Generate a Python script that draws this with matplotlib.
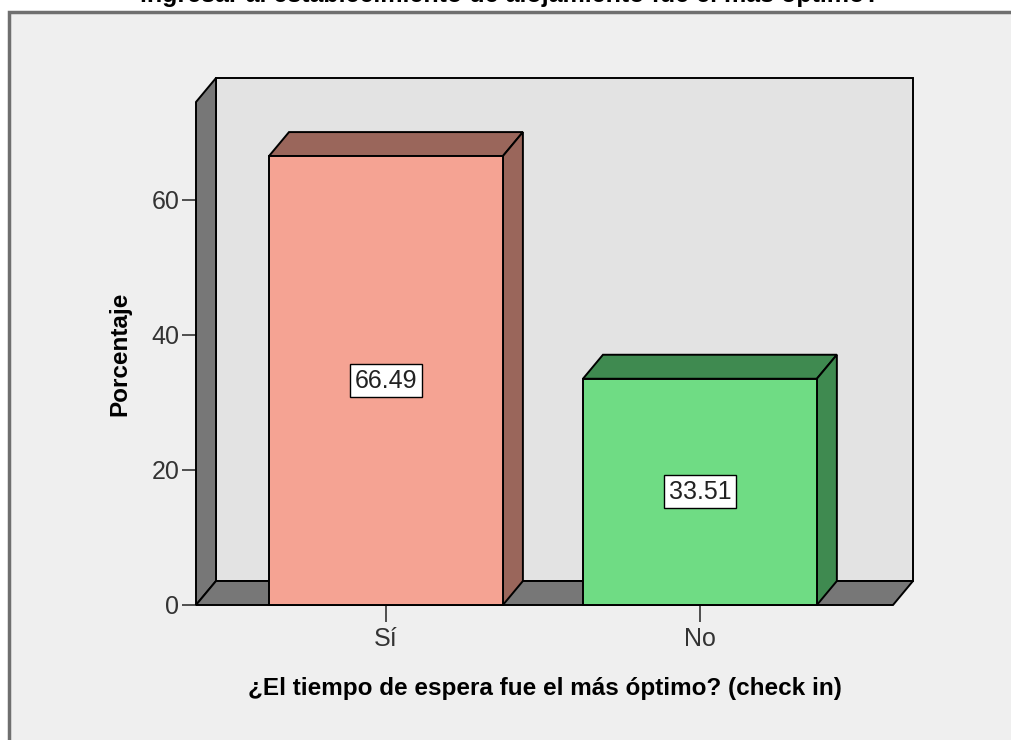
import matplotlib
matplotlib.use("Agg")
import matplotlib.pyplot as plt
from matplotlib.patches import Polygon, Rectangle

plt.rcParams["font.family"] = ["Liberation Sans", "DejaVu Sans"]

# Data
categories = ["Sí", "No"]
percentages = [66.49, 33.51]
value_labels = ["66.49", "33.51"]
yticks = [0, 20, 40, 60]
title_line = "ingresar al establecimiento de alojamiento fue el más óptimo?"
x_title = "¿El tiempo de espera fue el más óptimo? (check in)"
y_title = "Porcentaje"

front_colors = ["#f5a393", "#6fdc84"]
shade_colors = ["#9a665b", "#3f8a50"]
wall_color = "#777777"
back_color = "#e3e3e3"

W, H = 1012, 740
fig = plt.figure(figsize=(W / 100, H / 100), dpi=100, facecolor="white")

# outer chart frame
fig.patches.append(Rectangle((9 / W, -0.1), 1.2, 1.1 - 12 / H,
                             transform=fig.transFigure, facecolor="#efefef",
                             edgecolor="#6f6f6f", linewidth=2.5, zorder=-5))

# partially visible title line
fig.text(510 / W, 1 - 2 / H, title_line, ha="center", va="baseline",
         fontsize=18, fontweight="bold", color="black", zorder=-4)

ax_l, ax_r, ax_t, ax_b = 196, 893, 102, 605
ax = fig.add_axes([ax_l / W, (H - ax_b) / H, (ax_r - ax_l) / W, (ax_b - ax_t) / H])
ax.set_zorder(1)
x0, x1 = -0.605, 1.615
y0, y1 = 0, 74.5
ax.set_xlim(x0, x1)
ax.set_ylim(y0, y1)
ax.patch.set_visible(False)
for s in ax.spines.values():
    s.set_visible(False)

# depth offset of the 3D box, converted to data units
dx = 20 * (x1 - x0) / (ax_r - ax_l)
dy = 24 * (y1 - y0) / (ax_b - ax_t)

ek = dict(edgecolor="black", linewidth=1.4, clip_on=False, joinstyle="miter")

# back wall, left wall, floor
ax.add_patch(Polygon([(x0 + dx, y0 + dy), (x1 + dx, y0 + dy), (x1 + dx, y1 + dy), (x0 + dx, y1 + dy)],
                     facecolor=back_color, zorder=1, **ek))
ax.add_patch(Polygon([(x0, y0), (x0 + dx, y0 + dy), (x0 + dx, y1 + dy), (x0, y1)],
                     facecolor=wall_color, zorder=2, **ek))
ax.add_patch(Polygon([(x0, y0), (x1, y0), (x1 + dx, y0 + dy), (x0 + dx, y0 + dy)],
                     facecolor=wall_color, zorder=2, **ek))

# bars
bw = 0.745
for i, (v, fc, sc) in enumerate(zip(percentages, front_colors, shade_colors)):
    xl, xr = i - bw / 2, i + bw / 2
    ax.add_patch(Polygon([(xl, v), (xr, v), (xr + dx, v + dy), (xl + dx, v + dy)],
                         facecolor=sc, zorder=3, **ek))
    ax.add_patch(Polygon([(xr, 0), (xr + dx, dy), (xr + dx, v + dy), (xr, v)],
                         facecolor=sc, zorder=3, **ek))
    ax.add_patch(Polygon([(xl, 0), (xr, 0), (xr, v), (xl, v)],
                         facecolor=fc, zorder=4, **ek))
    ax.text(i, v / 2, value_labels[i], ha="center", va="center", fontsize=18,
            color="#222222", zorder=6,
            bbox=dict(boxstyle="square,pad=0.18", facecolor="white",
                      edgecolor="black", linewidth=1.0))

# axes ticks and labels
ax.set_yticks(yticks)
ax.set_xticks(range(len(categories)))
ax.set_xticklabels(categories)
ax.tick_params(axis="y", length=10, width=1.2, color="#333333", labelsize=18,
               labelcolor="#333333", pad=2)
ax.tick_params(axis="x", length=12, width=1.2, color="#333333", labelsize=18,
               labelcolor="#333333", pad=4)

ax.set_ylabel(y_title, fontsize=17.5, fontweight="bold")
ax.yaxis.label.set_va("center")
ax.yaxis.set_label_coords((120 - ax_l) / (ax_r - ax_l), 0.5)
ax.set_xlabel(x_title, fontsize=17.5, fontweight="bold")
ax.xaxis.label.set_va("center")
ax.xaxis.set_label_coords(0.5, (ax_b - 688) / (ax_b - ax_t))

fig.savefig("out.png", dpi=100, facecolor=fig.get_facecolor())
